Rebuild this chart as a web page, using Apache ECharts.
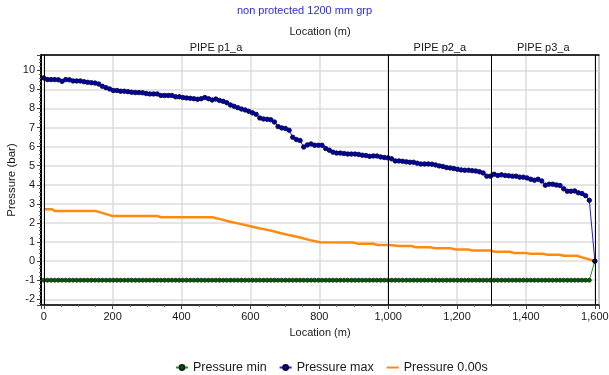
<!DOCTYPE html>
<html>
<head>
<meta charset="utf-8">
<script src="https://cdn.jsdelivr.net/npm/echarts@6/dist/echarts.min.js"></script>
<style>
  html, body { margin: 0; padding: 0; background: #fff; }
  #chart { width: 609px; height: 375px; }
</style>
</head>
<body>
<div id="chart"></div>
<script>
// node spacing along the line (m), last node sits on the outlet
const nodeSpacing = 10.63;
const endLocation = 1600;

// envelope pressures (bar) at each node
const maxPressure = [
  9.60, 9.51, 9.51, 9.51, 9.50, 9.42, 9.51, 9.50, 9.44, 9.44,
  9.44, 9.40, 9.37, 9.35, 9.33, 9.28, 9.16, 9.09, 9.02, 8.94,
  8.94, 8.90, 8.90, 8.88, 8.85, 8.83, 8.83, 8.82, 8.78, 8.76,
  8.76, 8.76, 8.68, 8.68, 8.68, 8.68, 8.61, 8.61, 8.57, 8.55,
  8.53, 8.51, 8.48, 8.51, 8.57, 8.51, 8.44, 8.49, 8.42, 8.37,
  8.30, 8.18, 8.11, 8.04, 7.97, 7.92, 7.85, 7.77, 7.69, 7.50,
  7.45, 7.43, 7.41, 7.29, 7.05, 6.98, 6.95, 6.86, 6.49, 6.37,
  6.32, 5.98, 6.09, 6.14, 6.07, 6.07, 6.07, 5.90, 5.81, 5.71,
  5.66, 5.66, 5.64, 5.61, 5.61, 5.61, 5.59, 5.55, 5.53, 5.49,
  5.51, 5.51, 5.46, 5.43, 5.41, 5.36, 5.25, 5.25, 5.23, 5.20,
  5.18, 5.18, 5.13, 5.09, 5.09, 5.09, 5.08, 5.04, 4.99, 4.96,
  4.90, 4.88, 4.85, 4.81, 4.78, 4.76, 4.76, 4.74, 4.72, 4.68,
  4.62, 4.45, 4.45, 4.55, 4.49, 4.52, 4.49, 4.47, 4.45, 4.45,
  4.40, 4.40, 4.36, 4.29, 4.24, 4.29, 4.20, 3.98, 4.03, 4.03,
  3.99, 3.96, 3.79, 3.66, 3.66, 3.68, 3.58, 3.54, 3.43, 3.19,
  0
];
const minPressure = [
  -1, -1, -1, -1, -1, -1, -1, -1, -1, -1,
  -1, -1, -1, -1, -1, -1, -1, -1, -1, -1,
  -1, -1, -1, -1, -1, -1, -1, -1, -1, -1,
  -1, -1, -1, -1, -1, -1, -1, -1, -1, -1,
  -1, -1, -1, -1, -1, -1, -1, -1, -1, -1,
  -1, -1, -1, -1, -1, -1, -1, -1, -1, -1,
  -1, -1, -1, -1, -1, -1, -1, -1, -1, -1,
  -1, -1, -1, -1, -1, -1, -1, -1, -1, -1,
  -1, -1, -1, -1, -1, -1, -1, -1, -1, -1,
  -1, -1, -1, -1, -1, -1, -1, -1, -1, -1,
  -1, -1, -1, -1, -1, -1, -1, -1, -1, -1,
  -1, -1, -1, -1, -1, -1, -1, -1, -1, -1,
  -1, -1, -1, -1, -1, -1, -1, -1, -1, -1,
  -1, -1, -1, -1, -1, -1, -1, -1, -1, -1,
  -1, -1, -1, -1, -1, -1, -1, -1, -1, -1,
  0
];

// pressure at t = 0.00s (location m, pressure bar)
const initialLocation = [
  0, 24, 32, 150, 198, 330, 340, 489, 512, 541, 570, 600, 628, 657, 686,
  715, 744, 773, 802, 899, 912, 956, 970, 1005, 1030, 1068, 1078, 1121,
  1135, 1180, 1195, 1233, 1245, 1297, 1310, 1353, 1365, 1400, 1412, 1450,
  1462, 1498, 1510, 1547, 1600
];
const initialPressure = [
  2.72, 2.72, 2.63, 2.63, 2.37, 2.37, 2.30, 2.30, 2.20, 2.06, 1.95, 1.83, 1.71, 1.61, 1.47,
  1.35, 1.24, 1.10, 0.99, 0.97, 0.91, 0.91, 0.84, 0.84, 0.79, 0.79, 0.73, 0.73,
  0.68, 0.68, 0.61, 0.61, 0.55, 0.55, 0.49, 0.49, 0.43, 0.43, 0.38, 0.38,
  0.33, 0.33, 0.28, 0.28, 0
];

const pipeNames = ["PIPE p1_a", "PIPE p2_a", "PIPE p3_a"];
const pipeBounds = [0, 1000, 1300, 1600];

const nodeLocation = maxPressure.map((v, i) =>
  i < maxPressure.length - 1 ? +(i * nodeSpacing).toFixed(2) : endLocation
);

const font = "Liberation Sans";
const txt = "#1a1a1a";

let myChart = echarts.init(document.getElementById("chart"));

let option = {
  animation: false,
  textStyle: { fontFamily: font },
  title: {
    text: "non protected 1200 mm grp",
    left: "center",
    top: 0,
    textStyle: { fontSize: 11, fontWeight: "normal", color: "#2a2aff", fontFamily: font },
  },
  legend: {
    data: [
      "Pressure min",
      "Pressure max",
      { name: "Pressure 0.00s", itemStyle: { opacity: 0 } },
    ],
    top: 356,
    left: 170,
    itemWidth: 12,
    itemHeight: 6,
    itemGap: 12,
    textStyle: { fontSize: 12.5, color: txt, fontFamily: font },
  },
  grid: {
    left: 41,
    right: 10,
    top: 55,
    bottom: 70,
    show: true,
    borderColor: "#000",
    borderWidth: 1,
    outerBoundsMode: "none",
    containLabel: false,
  },
  xAxis: [
    {
      type: "value",
      position: "bottom",
      min: -8,
      max: 1612,
      splitNumber: 8,
      name: "Location (m)",
      nameLocation: "middle",
      nameGap: 22,
      nameTextStyle: { fontSize: 11, color: txt },
      axisLine: { show: true, onZero: false, lineStyle: { color: "#000", width: 1.5 } },
      axisTick: { show: true, length: 4, lineStyle: { color: "#444" } },
      minorTick: { show: true, splitNumber: 4, length: 2, lineStyle: { color: "#666" } },
      splitLine: { show: true, lineStyle: { color: "#dcdcdc", width: 1.5 } },
      axisLabel: {
        showMinLabel: false,
        showMaxLabel: false,
        fontSize: 11,
        color: txt,
        margin: 6,
        formatter: (v) => String(v).replace(/\B(?=(\d{3})+(?!\d))/g, ","),
      },
    },
    {
      type: "value",
      position: "top",
      min: -8,
      max: 1612,
      name: "Location (m)",
      nameLocation: "middle",
      nameGap: 18,
      nameTextStyle: { fontSize: 11, color: txt },
      axisLine: { show: true, onZero: false, lineStyle: { color: "#000", width: 1.5 } },
      axisTick: { show: false },
      axisLabel: { show: false },
      splitLine: { show: false },
    },
  ],
  yAxis: {
    type: "value",
    min: -2.3,
    max: 10.8,
    splitNumber: 13,
    name: "Pressure (bar)",
    nameLocation: "middle",
    nameGap: 23,
    nameMoveOverlap: false,
    nameTextStyle: { fontSize: 11.5, color: txt },
    axisLine: { show: true, onZero: false, lineStyle: { color: "#000", width: 2 } },
    axisTick: { show: true, length: 4, lineStyle: { color: "#444" } },
    minorTick: { show: true, splitNumber: 5, length: 2, lineStyle: { color: "#666" } },
    splitLine: { show: true, lineStyle: { color: "#dcdcdc", width: 1.5 } },
    axisLabel: { showMinLabel: false, showMaxLabel: false, fontSize: 11, color: txt, margin: 6 },
  },
  series: [
    {
      name: "Pressure min",
      type: "line",
      data: nodeLocation.map((x, i) => [x, minPressure[i]]),
      symbol: "circle",
      symbolSize: 4,
      lineStyle: { color: "#1a9a1a", width: 1 },
      itemStyle: { color: "#0a5a0a", borderColor: "#0a2a0a", borderWidth: 0.8 },
      z: 3,
    },
    {
      name: "Pressure max",
      type: "line",
      data: nodeLocation.map((x, i) => [x, maxPressure[i]]),
      symbol: "circle",
      symbolSize: 4.5,
      lineStyle: { color: "#1a1aff", width: 1 },
      itemStyle: { color: "#0000b0", borderColor: "#000033", borderWidth: 0.8 },
      z: 4,
    },
    {
      name: "Pressure 0.00s",
      type: "line",
      data: initialLocation.map((x, i) => [x, initialPressure[i]]),
      showSymbol: false,
      lineStyle: { color: "#ff8a10", width: 2.5 },
      itemStyle: { color: "#ff8a10" },
      z: 2,
      markLine: {
        silent: true,
        symbol: ["none", "none"],
        label: { show: false },
        lineStyle: { color: "#000", width: 1, type: "solid" },
        data: pipeBounds.map((x) => ({ xAxis: x })),
      },
      markArea: {
        silent: true,
        itemStyle: { color: "rgba(0,0,0,0)" },
        label: { show: true, position: "top", distance: 2, fontSize: 11, color: txt },
        data: pipeNames.map((n, i) => [
          { name: n, xAxis: pipeBounds[i] },
          { xAxis: pipeBounds[i + 1] },
        ]),
      },
    },
  ],
};

option && myChart.setOption(option);
</script>
</body>
</html>
